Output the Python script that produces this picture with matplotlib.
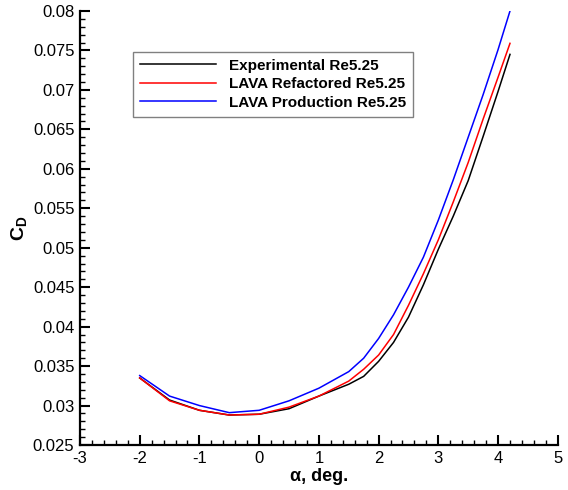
import numpy as np
import matplotlib.pyplot as plt
from matplotlib.ticker import MultipleLocator

plt.rcParams['font.family'] = ['Liberation Sans', 'DejaVu Sans']
plt.rcParams['mathtext.fontset'] = 'custom'
plt.rcParams['mathtext.rm'] = 'Liberation Sans'
plt.rcParams['mathtext.bf'] = 'Liberation Sans:bold'
plt.rcParams['axes.unicode_minus'] = False

# angle of attack (deg) and drag coefficient
alpha = [-2, -1.5, -1, -0.5, 0, 0.5, 1, 1.5, 1.75, 2, 2.25, 2.5, 2.75,
         3, 3.25, 3.5, 3.75, 4, 4.2]
cd_exp = [0.0335, 0.0307, 0.0294, 0.0288, 0.0289, 0.0296, 0.0312, 0.0327,
          0.0337, 0.0356, 0.0380, 0.0412, 0.0453, 0.0498, 0.0540, 0.0585,
          0.0641, 0.0698, 0.0745]
cd_refac = [0.0335, 0.0306, 0.0294, 0.0288, 0.0289, 0.0298, 0.0312, 0.0331,
            0.0346, 0.0364, 0.0390, 0.0427, 0.0467, 0.0510, 0.0558, 0.0608,
            0.0663, 0.0716, 0.0759]
cd_prod = [0.0338, 0.0312, 0.0300, 0.0291, 0.0294, 0.0306, 0.0322, 0.0343,
           0.0360, 0.0385, 0.0415, 0.0450, 0.0488, 0.0535, 0.0586, 0.0640,
           0.0694, 0.0751, 0.0800]

fig = plt.figure(figsize=(5.68, 4.90), dpi=100)
ax = fig.add_axes([0.1408, 0.0918, 0.8412, 0.8858])

ax.plot(alpha, cd_exp, color='black', lw=1.1, label='Experimental Re5.25')
ax.plot(alpha, cd_refac, color='red', lw=1.1, label='LAVA Refactored Re5.25')
ax.plot(alpha, cd_prod, color='blue', lw=1.1, label='LAVA Production Re5.25')

ax.set_xlim(-3, 5)
ax.set_ylim(0.025, 0.08)
ax.xaxis.set_major_locator(MultipleLocator(1))
ax.xaxis.set_minor_locator(MultipleLocator(0.2))
ax.yaxis.set_minor_locator(MultipleLocator(0.001))
ax.set_yticks(np.arange(0.025, 0.0801, 0.005))
ax.set_yticklabels(['0.025', '0.03', '0.035', '0.04', '0.045', '0.05',
                    '0.055', '0.06', '0.065', '0.07', '0.075', '0.08'])

ax.spines['top'].set_visible(False)
ax.spines['right'].set_visible(False)
ax.spines['left'].set_linewidth(1.6)
ax.spines['bottom'].set_linewidth(1.6)
ax.tick_params(which='major', direction='in', length=7, width=1.5,
               labelsize=12, pad=4)
ax.tick_params(which='minor', direction='in', length=3.5, width=1)

ax.set_xlabel('α, deg.', fontsize=13, fontweight='bold', labelpad=2)
ax.set_ylabel(r'$\mathbf{C}_{\mathbf{D}}$', fontsize=14, labelpad=2)

leg = ax.legend(loc='upper left', bbox_to_anchor=(133 / 568, 1 - 51.7 / 490),
                bbox_transform=fig.transFigure,
                prop={'weight': 'bold', 'size': 11}, fancybox=False,
                handlelength=5, handletextpad=0.85, labelspacing=0.3,
                borderpad=0.45, borderaxespad=0, framealpha=1)
leg.get_frame().set_edgecolor('gray')
leg.get_frame().set_linewidth(1)

fig.savefig('out.png', dpi=100)
